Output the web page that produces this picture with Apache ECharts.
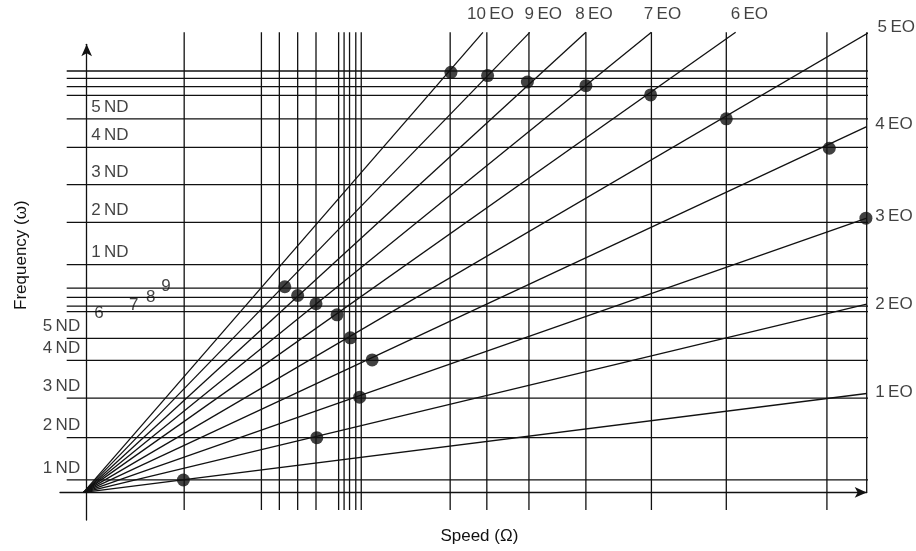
<!DOCTYPE html>
<html>
<head>
<meta charset="utf-8">
<script src="https://cdn.jsdelivr.net/npm/echarts@6/dist/echarts.min.js"></script>
<style>
html,body{margin:0;padding:0;background:#fff;}
#chart{width:916px;height:551px;}
</style>
</head>
<body>
<div id="chart"></div>
<script>
// ---- data (speed and frequency in chart units) ----
const speedLines = [12.5, 22.4, 24.7, 27.05, 29.4, 32.3, 33.0, 33.7, 34.5, 35.2, 46.6, 51.3, 56.7, 64.0, 72.4, 82.0, 94.9, 100];
const freqLinesLower = [2.7, 11.9, 20.5, 28.7, 33.5, 39.3, 40.5, 42.4, 44.4];
const freqLinesUpper = [49.5, 58.7, 66.9, 75.0, 81.2, 86.3, 88.2, 90.0, 91.6];
const lowerLabels = ['1\u2009ND', '2\u2009ND', '3\u2009ND', '4\u2009ND', '5\u2009ND', '6', '7', '8', '9'];
const upperLabels = ['1\u2009ND', '2\u2009ND', '3\u2009ND', '4\u2009ND', '5\u2009ND'];
const eoOrders = ['1\u2009EO', '2\u2009EO', '3\u2009EO', '4\u2009EO', '5\u2009EO', '6\u2009EO', '7\u2009EO', '8\u2009EO', '9\u2009EO', '10\u2009EO'];
const eoOrigin = [-0.4, 0];
const eoEndSpeed = [100, 100, 100, 100, 100.3, 83.2, 72.4, 64.0, 56.8, 50.8];
const eoEndFreq = [21.5, 40.9, 59.6, 79.5, 100, 100, 100, 100, 100, 100];
const resonanceSpeed = [12.4, 29.5, 35.0, 36.6, 33.8, 32.1, 29.4, 27.05, 25.4, 46.7, 51.4, 56.5, 64.0, 72.3, 82.0, 95.2, 99.9];
const resonanceFreq = [2.7, 11.9, 20.7, 28.8, 33.6, 38.6, 41.0, 42.8, 44.7, 91.3, 90.6, 89.2, 88.4, 86.4, 81.2, 74.8, 59.6];

// ---- layout / style constants ----
const INK = '#111111';
const FONT = "'Liberation Sans', Arial, Helvetica, sans-serif";
const FS = 17;
const LW = 1.3;
const hLineFrom = -2.56, hLineTo = 100.26;
const vLineBottom = -3.8, vLineTop = 100;
const digitLabelSpeed = [1.58, 6.03, 8.21, 10.17];
const digitLabelDy = [1.3, -1, 0.2, -1.5];
const eoRightDy = [-1.5, 0, -2, -2.7, -4.8];
const eoTopDx = [13.7, 11, 8, 13.5, 7.5];

const series = [];
const lineBase = {
  type: 'line', showSymbol: false, symbol: 'none', clip: false, silent: true,
  animation: false, lineStyle: { color: INK, width: LW }, z: 2
};

speedLines.forEach((s, i) => {
  const bottom = (i === speedLines.length - 1) ? 0 : vLineBottom;
  series.push(Object.assign({}, lineBase, { data: [[s, bottom], [s, vLineTop]] }));
});
freqLinesLower.concat(freqLinesUpper).forEach(f => {
  series.push(Object.assign({}, lineBase, { data: [[hLineFrom, f], [hLineTo, f]] }));
});
eoOrders.forEach((n, i) => {
  series.push(Object.assign({}, lineBase, { name: n, data: [eoOrigin, [eoEndSpeed[i], eoEndFreq[i]]] }));
});

series.push({
  type: 'scatter', silent: true, animation: false, z: 5, clip: false,
  symbol: 'circle', symbolSize: 13, itemStyle: { color: INK },
  data: resonanceSpeed.map((s, i) => [s, resonanceFreq[i]])
});

// labels
const labelData = [];
const txt = { color: INK, fontFamily: FONT, fontSize: FS };
freqLinesLower.forEach((f, i) => {
  if (i < 5) {
    labelData.push({ value: [0, f], label: Object.assign({ show: true, formatter: lowerLabels[i], position: 'left', distance: 6, offset: [0, -12] }, txt) });
  } else {
    const k = i - 5;
    labelData.push({ value: [digitLabelSpeed[k], f], label: Object.assign({ show: true, formatter: lowerLabels[i], position: 'inside', offset: [0, digitLabelDy[k]] }, txt) });
  }
});
upperLabels.forEach((t, i) => {
  labelData.push({ value: [0, freqLinesUpper[i]], label: Object.assign({ show: true, formatter: t, position: 'right', distance: 4, offset: [0, -12] }, txt) });
});
eoOrders.forEach((n, i) => {
  const pt = [eoEndSpeed[i], eoEndFreq[i]];
  if (i < 5) {
    labelData.push({ value: pt, label: Object.assign({ show: true, formatter: n, position: 'right', distance: 8, offset: [0, eoRightDy[i]] }, txt) });
  } else {
    labelData.push({ value: pt, label: Object.assign({ show: true, formatter: n, position: 'inside', offset: [eoTopDx[i - 5], -18] }, txt) });
  }
});
series.push({
  type: 'scatter', silent: true, animation: false, z: 6, clip: false,
  symbol: 'circle', symbolSize: 1, itemStyle: { color: 'rgba(0,0,0,0)' },
  data: labelData
});

const chart = echarts.init(document.getElementById('chart'), null, { renderer: 'canvas' });
chart.setOption({
  animation: false,
  backgroundColor: '#fff',
  grid: { left: 60, right: 49.3, top: 44.3, bottom: 31, containLabel: false, outerBoundsMode: 'none' },
  xAxis: {
    type: 'value', min: -3.42, max: 100,
    name: 'Speed (\u03A9)', nameLocation: 'middle', nameGap: 8,
    nameTextStyle: { color: INK, fontFamily: FONT, fontSize: FS, padding: [0, 0, 0, 32] },
    axisLine: { onZero: true, symbol: ['none', 'arrow'], symbolSize: [8, 12], lineStyle: { color: INK, width: LW } },
    axisTick: { show: false }, axisLabel: { show: false }, splitLine: { show: false }
  },
  yAxis: {
    type: 'value', min: -6, max: 97.4,
    name: 'Frequency (\u03C9)', nameLocation: 'middle', nameGap: 30,
    nameTextStyle: { color: INK, fontFamily: FONT, fontSize: FS, padding: [0, 0, 0, 54] },
    axisLine: { onZero: true, symbol: ['none', 'arrow'], symbolSize: [8, 12], lineStyle: { color: INK, width: LW } },
    axisTick: { show: false }, axisLabel: { show: false }, splitLine: { show: false }
  },
  series: series
});
</script>
</body>
</html>
